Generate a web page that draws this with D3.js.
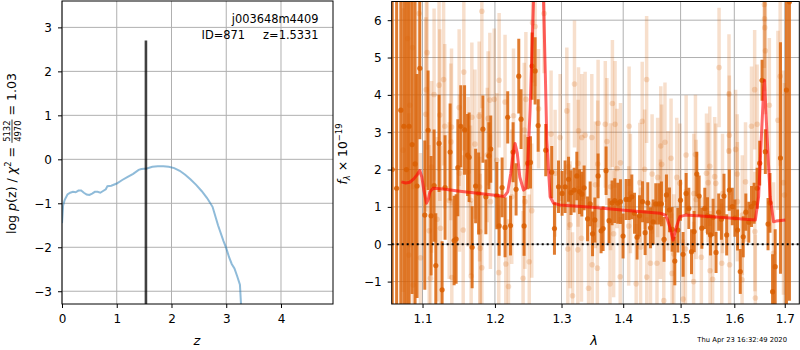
<!DOCTYPE html>
<html><head><meta charset="utf-8">
<script src="https://cdn.jsdelivr.net/npm/d3@7"></script>
<style>body{margin:0;background:#fff} text{font-family:"DejaVu Sans",sans-serif;fill:#000}</style>
</head><body>
<svg id="c" width="800" height="350" xmlns="http://www.w3.org/2000/svg"></svg>
<script>
// ---------- data ----------
const pzXTicks = [0, 1, 2, 3, 4];
const pzYTicks = [-3, -2, -1, 0, 1, 2, 3];
const specXTicks = [1.1, 1.2, 1.3, 1.4, 1.5, 1.6, 1.7];
const specYTicks = [-1, 0, 1, 2, 3, 4, 5, 6];

const pzZ = [0, 0.02, 0.05, 0.1, 0.15, 0.2, 0.25, 0.3, 0.35, 0.4, 0.45, 0.5, 0.55, 0.6, 0.65, 0.7, 0.75, 0.8, 0.83, 0.9, 1.0, 1.1, 1.2, 1.3, 1.4, 1.45, 1.55, 1.65, 1.75, 1.85, 1.95, 2.05, 2.15, 2.25, 2.35, 2.45, 2.55, 2.65, 2.75, 2.85, 2.95, 3.0, 3.05, 3.1, 3.15, 3.2, 3.25, 3.27, 3.3];
const pzLog = [-1.45, -1.05, -0.92, -0.80, -0.76, -0.74, -0.75, -0.71, -0.71, -0.76, -0.80, -0.81, -0.78, -0.74, -0.74, -0.76, -0.72, -0.68, -0.61, -0.60, -0.55, -0.47, -0.40, -0.33, -0.24, -0.22, -0.21, -0.17, -0.16, -0.16, -0.17, -0.20, -0.26, -0.35, -0.46, -0.58, -0.72, -0.88, -1.08, -1.50, -1.86, -2.02, -2.22, -2.38, -2.48, -2.66, -2.85, -3.30, -3.60];
const zBest = 1.5331;
const zLineTop = 2.7;

const binWave = [1.0607, 1.0663, 1.0717, 1.0756, 1.0789, 1.0824, 1.0863, 1.0902, 1.0928, 1.0964, 1.1030, 1.1074, 1.1114, 1.1154, 1.1177, 1.1221, 1.1262, 1.1302, 1.1371, 1.1426, 1.1453, 1.1477, 1.1518, 1.1570, 1.1612, 1.1634, 1.1676, 1.1725, 1.1767, 1.1828, 1.1870, 1.1913, 1.1940, 1.2027, 1.2061, 1.2104, 1.2147, 1.2186, 1.2227, 1.2265, 1.2309, 1.2349, 1.2383, 1.2428, 1.2484, 1.2524, 1.2548, 1.2594, 1.2640, 1.2756, 1.2848, 1.2890, 1.2953, 1.3009, 1.3056, 1.3110, 1.3150, 1.3198, 1.3241, 1.3284, 1.3321, 1.3358, 1.3413, 1.3455, 1.3494, 1.3531, 1.3584, 1.3633, 1.3666, 1.3715, 1.3764, 1.3814, 1.3859, 1.3909, 1.3954, 1.3998, 1.4049, 1.4100, 1.4146, 1.4192, 1.4236, 1.4277, 1.4329, 1.4374, 1.4420, 1.4467, 1.4513, 1.4559, 1.4612, 1.4659, 1.4705, 1.4747, 1.4801, 1.4848, 1.4896, 1.4950, 1.4998, 1.5045, 1.5100, 1.5149, 1.5198, 1.5246, 1.5295, 1.5338, 1.5388, 1.5443, 1.5493, 1.5548, 1.5597, 1.5653, 1.5703, 1.5754, 1.5803, 1.5854, 1.5905, 1.5962, 1.6012, 1.6063, 1.6115, 1.6173, 1.6223, 1.6281, 1.6334, 1.6386, 1.6445, 1.6496, 1.6543, 1.6608, 1.6662, 1.6701, 1.6753, 1.6806, 1.6913, 1.7035, 1.7096];
const binFlux = [2.0, 1.5, 3.59, 3.16, 2.0, 3.16, 2.67, 2.15, 1.56, 4.71, 0.78, 3.05, 0.76, 1.57, -0.57, 2.70, -1.22, 1.52, 2.47, 0.10, 0.14, 2.05, 3.16, 3.06, 2.39, 2.33, -0.08, 1.56, 1.36, 3.08, 1.27, 2.37, 2.55, 1.30, 0.49, 1.52, 0.45, 3.40, 0.50, 2.47, 1.47, 4.50, 3.35, 0.49, 2.17, 2.19, 4.77, 4.64, 3.18, 2.52, 1.93, 0.42, 1.54, 1.36, 1.54, 1.74, 1.38, 1.45, 1.83, 1.41, 1.34, 1.51, 0.68, 1.08, 0.28, 0.65, 1.83, 0.36, 0.42, 1.97, 0.63, 1.11, 1.17, 1.10, 1.14, 0.22, 1.20, 1.20, 1.27, 0.83, 0.19, 0.76, 1.14, 0.31, 1.11, 0.44, 0.60, 1.08, 1.08, 1.08, 0.13, 1.32, 0.92, 0.40, -0.45, 0.38, 1.18, -0.27, 1.36, 0.96, -0.20, 0.34, 1.88, 1.29, 0.43, 0.96, 0.76, 0.25, 0.72, -0.22, 0.86, 0.67, 1.29, 0.25, 1.45, 1.01, 0.70, 0.38, -0.73, 0.20, 0.86, 0.59, 1.01, 1.10, 1.50, 2.17, 4.39, 2.48, 0.54, 1.11, -1.27, -0.60, 2.31, 4.13, 6.49];
const binErr = [8, 8, 6, 6, 7, 5, 4, 4.5, 3, 1.9, 2.0, 1.6, 1.6, 1.5, 1.4, 1.3, 1.3, 1.4, 1.3, 1.2, 1.2, 1.3, 1.1, 1.2, 1.1, 1.2, 1.1, 1.0, 1.1, 0.9, 1.0, 0.9, 0.9, 0.9, 0.8, 0.8, 0.8, 0.7, 0.8, 0.8, 0.7, 1.0, 0.8, 0.8, 0.7, 0.7, 0.9, 0.9, 0.7, 0.7, 0.7, 0.7, 0.7, 0.6, 0.7, 0.6, 0.6, 0.6, 0.65, 0.6, 0.6, 0.6, 0.6, 0.6, 0.6, 0.6, 0.6, 0.6, 0.6, 0.65, 0.6, 0.6, 0.6, 0.55, 0.6, 0.6, 0.55, 0.55, 0.6, 0.55, 0.6, 0.55, 0.55, 0.6, 0.55, 0.55, 0.6, 0.55, 0.55, 0.6, 0.6, 0.55, 0.6, 0.6, 0.65, 0.6, 0.55, 0.6, 0.55, 0.55, 0.6, 0.55, 0.6, 0.55, 0.55, 0.55, 0.5, 0.55, 0.5, 0.55, 0.5, 0.55, 0.6, 0.55, 0.55, 0.5, 0.5, 0.55, 0.6, 0.55, 0.5, 0.55, 0.55, 0.55, 0.55, 0.6, 0.55, 0.6, 0.7, 0.8, 1.0, 1.0, 3.1, 6, 8];

const rawWave = [1.0955, 1.1813, 1.0804, 1.0869, 1.1061, 1.1282, 1.1221, 1.1050, 1.1154, 1.1560, 1.0833, 1.1044, 1.1231, 1.1298, 1.1390, 1.1495, 1.1672, 1.1775, 1.1902, 1.1927, 1.1381, 1.1715, 1.1890, 1.0745, 1.1120, 1.1500, 1.1620, 1.1780, 1.1935, 1.1358, 1.1654, 1.1194, 1.1240, 1.1088, 1.1551, 1.1785, 1.0820, 1.0973, 1.1790, 1.1813, 1.1662, 1.1394, 1.1106, 1.0877,
  1.2555, 1.2594, 1.2730, 1.2061, 1.3204, 1.2455, 1.2147, 1.3083, 1.2646, 1.1990, 1.2271, 1.2430, 1.2838, 1.2978, 1.3268, 1.3321, 1.3482, 1.3374, 1.2027, 1.3262, 1.3110, 1.2900, 1.2543, 1.2245, 1.2440, 1.3135, 1.3315, 1.3099, 1.3257, 1.3488, 1.2505, 1.2158, 1.2055, 1.2413, 1.2197, 1.3173, 1.3429,
  1.4400, 1.3820, 1.3584, 1.3702, 1.3864, 1.4100, 1.4324, 1.3729, 1.4721, 1.4647, 1.5100, 1.5270, 1.3578, 1.3954, 1.4662, 1.4829, 1.3896, 1.4366, 1.4495, 1.4592, 1.4931, 1.4283, 1.3540, 1.3789, 1.4122, 1.5240, 1.4640, 1.4093, 1.3840, 1.4296, 1.4467, 1.4580, 1.5088, 1.3572, 1.3950, 1.4220, 1.4402, 1.4847, 1.3780, 1.4700, 1.5045, 1.5236, 1.4878, 1.4775, 1.4986,
  1.5710, 1.5898, 1.6396, 1.6588, 1.6592, 1.6596, 1.6608, 1.6334, 1.6445, 1.6688, 1.6907, 1.6861, 1.5905, 1.5895, 1.6025, 1.5535, 1.5474, 1.5627, 1.6056, 1.6217, 1.5505, 1.5648, 1.5775, 1.6973, 1.6995, 1.6060, 1.6155, 1.6400, 1.5379, 1.5540, 1.5760, 1.5910, 1.5588, 1.6150, 1.6410, 1.6773, 1.5283];
const rawFlux = [6.18, 6.24, 5.51, 5.27, 5.13, 4.41, 4.26, 4.14, 4.01, 4.61, 3.72, 3.48, 3.46, 3.16, 3.14, 3.66, 3.40, 3.43, 3.37, 3.86, 2.74, 2.68, 2.39, 2.52, 2.07, 1.90, 1.94, 1.54, 1.14, 1.17, 1.18, 0.67, 0.43, 0.36, 0.38, 0.34, -0.29, -0.36, -0.11, -0.63, -0.85, -0.89, -0.91, -1.09,
  5.93, 5.83, 6.18, 4.39, 4.29, 3.88, 3.81, 3.57, 3.63, 3.88, 3.44, 3.06, 2.95, 2.86, 3.04, 2.86, 2.86, 2.92, 2.25, 2.17, 2.08, 1.90, 0.90, 1.27, 1.14, 0.52, 0.16, -0.13, -0.15, -0.55, -0.47, -0.53, -0.76, -0.91, -1.13, -1.38, -1.18,
  4.41, 3.77, 3.24, 3.21, 3.21, 3.16, 3.29, 2.75, 2.73, 2.63, 2.39, 2.40, 2.15, 2.18, 2.14, 2.30, 2.03, 2.01, 1.88, 1.79, 1.79, 1.65, 1.59, 1.54, 1.36, 1.36, 0.67, 0.49, 0.28, -0.08, -0.51, -0.51, -0.13, -0.64, -0.87, -1.06, -0.88, -0.78, -1.06, -1.51, -1.47, -1.00, -0.26, 1.43, 1.63,
  4.73, 4.02, 4.14, 6.42, 6.04, 5.80, 5.18, 3.16, 3.21, 3.72, 4.50, 3.32, 2.92, 2.50, 2.54, 2.09, 1.90, 1.81, 1.88, 1.67, 1.65, 1.63, 1.36, 1.65, 1.32, 1.14, 0.78, 0.34, -0.35, -0.71, -0.51, -0.55, -0.94, -0.95, -1.44, -0.24, 1.20];
const rawErr = [3.2, 2.6, 3.8, 3.8, 2.6, 2.3, 2.3, 2.6, 2.3, 2.1, 3.8, 2.6, 2.3, 2.2, 2.1, 2.1, 2.0, 2.0, 1.8, 1.8, 2.1, 2.0, 1.8, 3.8, 2.3, 2.1, 2.0, 2.0, 1.8, 2.1, 2.0, 2.2, 2.2, 2.3, 2.0, 2.0, 3.8, 2.8, 2.0, 2.0, 2.0, 2.1, 2.3, 3.8,
  1.6, 1.6, 1.6, 1.8, 1.7, 1.8, 1.8, 1.7, 1.6, 1.9, 1.8, 1.8, 1.7, 1.7, 1.7, 1.7, 1.7, 1.7, 1.8, 1.7, 1.7, 1.7, 1.8, 1.8, 1.8, 1.7, 1.7, 1.7, 1.7, 1.7, 1.8, 1.8, 1.8, 1.8, 1.8, 1.7, 1.7,
  1.7, 1.7, 1.7, 1.7, 1.7, 1.6, 1.6, 1.7, 1.6, 1.6, 1.6, 1.6, 1.7, 1.6, 1.6, 1.6, 1.6, 1.6, 1.6, 1.6, 1.6, 1.6, 1.7, 1.7, 1.6, 1.6, 1.6, 1.6, 1.7, 1.6, 1.6, 1.6, 1.6, 1.7, 1.6, 1.6, 1.6, 1.6, 1.7, 1.6, 1.6, 1.6, 1.6, 1.6, 1.6,
  1.6, 1.6, 1.6, 1.7, 1.7, 1.7, 1.7, 1.6, 1.6, 1.8, 2.4, 2.4, 1.6, 1.6, 1.6, 1.6, 1.6, 1.6, 1.6, 1.6, 1.6, 1.6, 1.6, 3.0, 3.0, 1.6, 1.6, 1.6, 1.6, 1.6, 1.6, 1.6, 1.6, 1.6, 1.7, 1.9, 1.6];

const modelWave = [1.0724, 1.0780, 1.0833, 1.0885, 1.0925, 1.0964, 1.0991, 1.1017, 1.1053, 1.1077, 1.1097, 1.1141, 1.1275, 1.1504, 1.1785, 1.1999, 1.2137, 1.2186, 1.2231, 1.2267, 1.2294, 1.2326, 1.2364, 1.2419, 1.2454, 1.2484, 1.2518, 1.2543, 1.2569, 1.2620, 1.2670, 1.2722, 1.2750, 1.2772, 1.2823, 1.2876, 1.2973, 1.3482, 1.4112, 1.4640, 1.4728, 1.4768, 1.4806, 1.4865, 1.4926, 1.4986, 1.5088, 1.5722, 1.6410, 1.6474, 1.6527, 1.6576, 1.6592, 1.6640, 1.6705, 1.6773, 1.6826, 1.7011];
const modelFlux = [1.67, 1.64, 1.66, 1.75, 1.85, 1.97, 1.80, 1.45, 1.10, 1.20, 1.40, 1.50, 1.48, 1.42, 1.36, 1.31, 1.28, 1.40, 1.90, 2.45, 2.70, 2.45, 1.80, 1.45, 1.50, 2.20, 3.59, 5.0, 6.5, 8.5, 8.5, 6.5, 4.5, 2.79, 1.27, 1.10, 1.05, 0.99, 0.90, 0.83, 0.78, 0.65, 0.47, 0.11, 0.47, 0.74, 0.78, 0.72, 0.65, 1.27, 2.8, 4.2, 4.39, 2.97, 1.27, 0.60, 0.62, 0.65];

// ---------- drawing ----------
const svg = d3.select('#c');
const ORANGE = '#d95f02';
const GRID = '#b0b0b0';
const FS = 12;

const L = {x0: 62, x1: 333, y0: 1, y1: 304};
const R = {x0: 391.7, x1: 799.3, y0: 1.5, y1: 304};

const zx = d3.scaleLinear().domain([0, 4.95]).range([L.x0, L.x1]);
const zy = d3.scaleLinear().domain([-3.29, 3.6]).range([L.y1, L.y0]);
const wx = d3.scaleLog().domain([1.06, 1.73]).range([R.x0, R.x1]);
const fy = d3.scaleLinear().domain([-1.6, 6.5]).range([R.y1, R.y0]);

const defs = svg.append('defs');
defs.append('clipPath').attr('id', 'clipL').append('rect')
  .attr('x', L.x0).attr('y', L.y0).attr('width', L.x1 - L.x0).attr('height', L.y1 - L.y0);
defs.append('clipPath').attr('id', 'clipR').append('rect')
  .attr('x', R.x0).attr('y', R.y0).attr('width', R.x1 - R.x0).attr('height', R.y1 - R.y0);

function grid(P, xs, ys, xt, yt) {
  const g = svg.append('g');
  g.selectAll('.vx').data(xt).join('line')
    .attr('x1', d => xs(d)).attr('x2', d => xs(d)).attr('y1', P.y0).attr('y2', P.y1)
    .attr('stroke', GRID).attr('stroke-width', 1);
  g.selectAll('.hy').data(yt).join('line')
    .attr('y1', d => ys(d)).attr('y2', d => ys(d)).attr('x1', P.x0).attr('x2', P.x1)
    .attr('stroke', GRID).attr('stroke-width', 1);
}
grid(L, zx, zy, pzXTicks, pzYTicks);
grid(R, wx, fy, specXTicks, specYTicks);

// ---- left panel data
const gL = svg.append('g').attr('clip-path', 'url(#clipL)');
gL.append('path')
  .datum(pzZ.map((z, i) => [z, pzLog[i]]))
  .attr('d', d3.line().x(d => zx(d[0])).y(d => zy(d[1])))
  .attr('fill', 'none').attr('stroke', '#1f77b4').attr('stroke-opacity', 0.5).attr('stroke-width', 2);
gL.append('line')
  .attr('x1', zx(zBest)).attr('x2', zx(zBest)).attr('y1', zy(-3.29)).attr('y2', zy(zLineTop))
  .attr('stroke', '#000').attr('stroke-opacity', 0.75).attr('stroke-width', 2.6);

// ---- right panel data
const gR = svg.append('g').attr('clip-path', 'url(#clipR)');
const raw = rawWave.map((w, i) => ({w, f: rawFlux[i], e: rawErr[i]}));
const bin = binWave.map((w, i) => ({w, f: binFlux[i], e: binErr[i]}));

const gRaw = gR.append('g');
gRaw.selectAll('line').data(raw).join('line')
  .attr('x1', d => wx(d.w)).attr('x2', d => wx(d.w))
  .attr('y1', d => fy(d.f - d.e)).attr('y2', d => fy(d.f + d.e))
  .attr('stroke', ORANGE).attr('stroke-opacity', 0.2).attr('stroke-width', 3.5);
gRaw.selectAll('circle').data(raw).join('circle')
  .attr('cx', d => wx(d.w)).attr('cy', d => fy(d.f)).attr('r', 2.8)
  .attr('fill', ORANGE).attr('fill-opacity', 0.2);

const gBin = gR.append('g');
gBin.selectAll('line').data(bin).join('line')
  .attr('x1', d => wx(d.w)).attr('x2', d => wx(d.w))
  .attr('y1', d => fy(d.f - d.e)).attr('y2', d => fy(d.f + d.e))
  .attr('stroke', ORANGE).attr('stroke-opacity', 0.82).attr('stroke-width', 3);
gBin.selectAll('circle').data(bin).join('circle')
  .attr('cx', d => wx(d.w)).attr('cy', d => fy(d.f)).attr('r', 2.6)
  .attr('fill', ORANGE).attr('fill-opacity', 0.85);

gR.append('path')
  .datum(modelWave.map((w, i) => [w, modelFlux[i]]))
  .attr('d', d3.line().x(d => wx(d[0])).y(d => fy(d[1])))
  .attr('fill', 'none').attr('stroke', 'red').attr('stroke-opacity', 0.6)
  .attr('stroke-width', 3).attr('stroke-linejoin', 'round');

gR.append('line')
  .attr('x1', R.x0).attr('x2', R.x1).attr('y1', fy(0)).attr('y2', fy(0))
  .attr('stroke', '#000').attr('stroke-width', 2).attr('stroke-dasharray', '2,3');

// ---- axes
function styleAxis(g) {
  g.select('.domain').remove();
  g.selectAll('.tick line').attr('stroke', '#000').attr('stroke-width', 1);
  g.selectAll('.tick text').attr('font-size', FS).attr('font-family', '"DejaVu Sans", sans-serif').attr('fill', '#000');
}
const fmtInt = d3.format('d');
const fmt1 = d3.format('.1f');
svg.append('g').attr('transform', `translate(0,${L.y1})`)
  .call(d3.axisBottom(zx).tickValues(pzXTicks).tickFormat(fmtInt).tickSize(4).tickPadding(6.5)).call(styleAxis);
svg.append('g').attr('transform', `translate(${L.x0},0)`)
  .call(d3.axisLeft(zy).tickValues(pzYTicks).tickFormat(fmtInt).tickSize(4).tickPadding(6)).call(styleAxis);
svg.append('g').attr('transform', `translate(0,${R.y1})`)
  .call(d3.axisBottom(wx).tickValues(specXTicks).tickFormat(fmt1).tickSize(4).tickPadding(6.5)).call(styleAxis);
svg.append('g').attr('transform', `translate(${R.x0},0)`)
  .call(d3.axisLeft(fy).tickValues(specYTicks).tickFormat(fmtInt).tickSize(4).tickPadding(6)).call(styleAxis);

// frames
[L, R].forEach(P => {
  svg.append('rect').attr('x', P.x0).attr('y', P.y0).attr('width', P.x1 - P.x0).attr('height', P.y1 - P.y0)
    .attr('fill', 'none').attr('stroke', '#000').attr('stroke-width', 1);
});

// ---- texts
svg.append('text').attr('x', 318.5).attr('y', 23).attr('text-anchor', 'end').attr('font-size', 11.4).text('j003648m4409');
svg.append('text').attr('x', 318.5).attr('y', 39).attr('text-anchor', 'end').attr('font-size', 11.4)
  .style('white-space', 'pre').text('ID=871     z=1.5331');

svg.append('text').attr('x', 197).attr('y', 345).attr('text-anchor', 'middle').attr('font-size', 13)
  .style('font-style', 'italic').text('z');
svg.append('text').attr('x', 594).attr('y', 345).attr('text-anchor', 'middle').attr('font-size', 13)
  .style('font-style', 'italic').text('λ');

svg.append('text').attr('x', 787).attr('y', 342).attr('text-anchor', 'end').attr('font-size', 6.8)
  .text('Thu Apr 23 16:32:49 2020');

// rich rotated labels
function richLabel(cx, cy, pieces, size) {
  const outer = svg.append('g').attr('transform', `translate(${cx},${cy}) rotate(-90)`);
  const g = outer.append('g');
  let x = 0;
  pieces.forEach(p => {
    if (p.frac) {
      const fs = 8.4;
      const n = g.append('text').attr('font-size', fs).attr('y', -6.2).text(p.frac[0]);
      const d = g.append('text').attr('font-size', fs).attr('y', 4.6).text(p.frac[1]);
      const wn = n.node().getComputedTextLength(), wd = d.node().getComputedTextLength();
      const w = Math.max(wn, wd) + 2;
      n.attr('x', x + (w - wn) / 2);
      d.attr('x', x + (w - wd) / 2);
      g.append('line').attr('x1', x).attr('x2', x + w).attr('y1', -4).attr('y2', -4)
        .attr('stroke', '#000').attr('stroke-width', 0.8);
      x += w;
    } else {
      const t = g.append('text').attr('x', x).attr('y', p.dy || 0).attr('font-size', p.size || size)
        .style('white-space', 'pre').style('font-style', p.it ? 'italic' : 'normal').text(p.t);
      x += t.node().getComputedTextLength();
    }
  });
  g.attr('transform', `translate(${-x / 2},0)`);
}
richLabel(16, 153.5, [
  {t: 'log '}, {t: 'p', it: true}, {t: '(z) / '}, {t: 'χ', it: true}, {t: '2', size: 8.4, dy: -5},
  {t: ' = '}, {frac: ['5132', '4970']}, {t: ' = 1.03'}
], 12.6);
richLabel(347, 154, [
  {t: 'f', it: true}, {t: 'λ', it: true, size: 8.4, dy: 3}, {t: ' × 10'}, {t: '−19', size: 8.4, dy: -5}
], 12.4);
</script>
</body></html>
